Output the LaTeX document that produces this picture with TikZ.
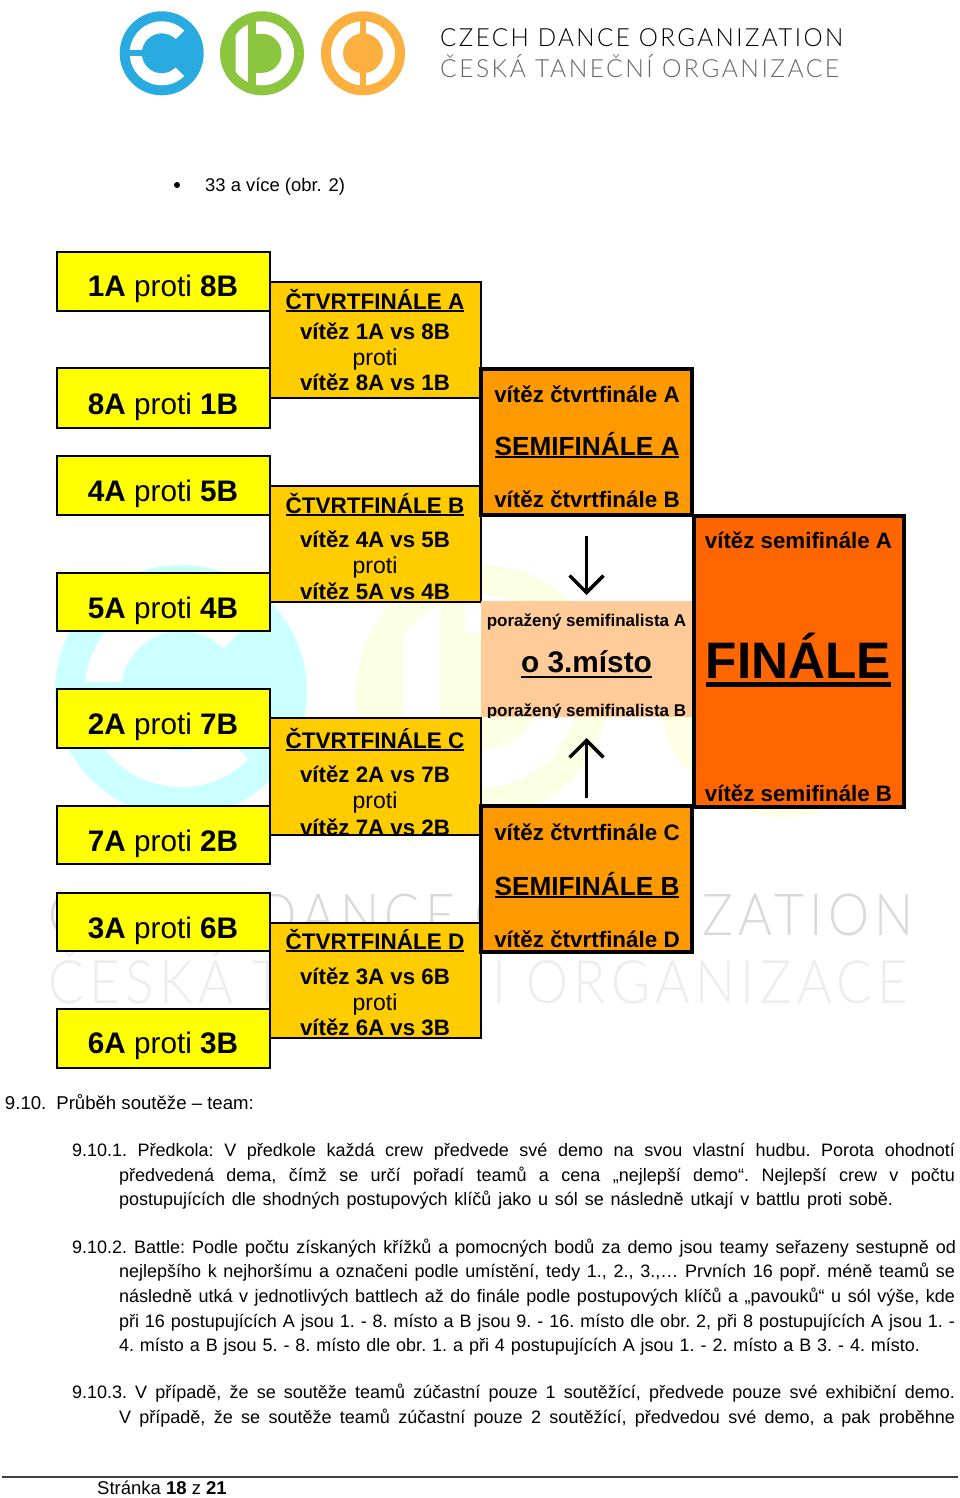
\documentclass[tikz,border=0pt]{standalone}
\usepackage{fontspec}
\usepackage{graphicx}
\usetikzlibrary{arrows.meta}
\setmainfont{Liberation Sans}
\newfontfamily\lgfont[LetterSpace=10]{Lato Light}
\definecolor{cyel}{HTML}{FFFF00}
\definecolor{cqf}{HTML}{FFCC00}
\definecolor{csf}{HTML}{FF9900}
\definecolor{cfin}{HTML}{FF6600}
\definecolor{cthird}{HTML}{FFCC99}
\definecolor{lblue}{HTML}{29ABE2}
\definecolor{lgreen}{HTML}{8CC63F}
\definecolor{lorange}{HTML}{FBB040}
\definecolor{wblue}{HTML}{CCFFFF}
\definecolor{wgreen}{HTML}{FBFFE3}
\definecolor{worange}{HTML}{FFFFE5}
\newcommand\fsz[1]{\fontsize{#1}{#1}\selectfont}
\newsavebox\ulbox
\newcommand\ulx[3]{\sbox\ulbox{#1}\rlap{\usebox\ulbox}\rlap{\raisebox{-#2pt}{\rule{\wd\ulbox}{#3pt}}}\kern\wd\ulbox}
\tikzset{
  x=1pt,y=-1pt,
  boxbase/.style={rectangle,inner sep=0pt,outer sep=0pt,anchor=north west},
  ybox/.style={boxbase,draw=black,fill=cyel,line width=2.6pt},
  qfbox/.style={boxbase,fill=cqf},
  sfbox/.style={boxbase,fill=csf},
  finbox/.style={boxbase,draw=black,fill=cfin,line width=4pt},
  thirdbox/.style={boxbase,fill=cthird},
  lab/.style={inner sep=0pt,outer sep=0pt,anchor=base,text=black},
  arr/.style={line width=3.4pt,-{Straight Barb[length=17pt,width=34pt,line width=3.4pt]}},
}
\newcommand\boxn[6]{\node[#1,minimum width={(#5-#3)*1pt},minimum height={(#6-#4)*1pt}] (#2) at (#3,#4) {};}
\newcommand\ymatch[5]{\boxn{ybox}{#1}{57}{#2}{270}{#3}\node[lab,font=\fsz{29.7}] (#1t) at (163,#4) {#5};}
\newcommand\tline[5]{\node[inner sep=0pt,outer sep=0pt,anchor=base west,font=\fsz{18}] (#1) at (#2,#3) {\hbox to #4pt{\frenchspacing\spaceskip=1pt plus 1fil\relax #5}};}
\newcommand\qftext[8]{%
  \node[lab,font=\fsz{22.5}\bfseries] (#1a) at (375,#2) {\ulx{#6}{2.6}{1.8}};
  \node[lab,font=\fsz{22.3}\bfseries] (#1b) at (375,#3) {#7};
  \node[lab,font=\fsz{23}] (#1c) at (375,#4) {proti};
  \node[lab,font=\fsz{22.3}\bfseries] (#1d) at (375,#5) {#8};}
\newcommand\markC[4]{\begin{scope}[shift={(#1,#2)},scale=#3]
  \fill[#4] (0,0) circle (42);
  \fill[white,even odd rule] (0,0) circle (32) (0,0) circle (20);
  \fill[#4] (0,0) -- (45:33) arc (45:-45:33) -- cycle;
  \fill[#4] (-33,-3) rectangle (-15,3);
\end{scope}}
\newcommand\markD[4]{\begin{scope}[shift={(#1,#2)},scale=#3]
  \fill[#4] (0,0) circle (42);
  \begin{scope}\clip (-26.3,-40) rectangle (40,40);\fill[white] (0,0) circle (32);\end{scope}
  \fill[#4] (-14,-34) rectangle (-5.7,34);
  \begin{scope}\clip (-5.7,-40) rectangle (40,40);\fill[#4] (0,0) circle (19.5);\end{scope}
  \fill[#4] (-5.7,-19.5) rectangle (0,19.5);
\end{scope}}
\newcommand\markO[4]{\begin{scope}[shift={(#1,#2)},scale=#3]
  \fill[#4] (0,0) circle (42);
  \fill[white,even odd rule] (0,0) circle (32) (0,0) circle (20);
  \fill[#4] (-3.3,-33) rectangle (3.3,33);
\end{scope}}
\begin{document}
\begin{tikzpicture}
\useasboundingbox (0,0) rectangle (960,1498);
\fill[white] (0,0) rectangle (960,1498);
% watermark
\markC{181}{691}{3}{wblue}
\markD{482}{691}{3}{wgreen}
\markO{785}{691}{3}{worange}
\node[inner sep=0pt,anchor=base west,text=black!15,font=\lgfont\fsz{58}] (wm1) at (48,935) {\resizebox{865pt}{\height}{CZECH DANCE ORGANIZATION}};
\node[inner sep=0pt,anchor=base west,text=black!7,font=\lgfont\fsz{60}] (wm2) at (48,1003) {\resizebox{860pt}{\height}{ČESKÁ TANEČNÍ ORGANIZACE}};
% header logo
\markC{161.7}{53.3}{1}{lblue}
\markD{262}{53.3}{1}{lgreen}
\markO{363}{53.3}{1}{lorange}
\node[inner sep=0pt,anchor=base west,text=black,font=\lgfont\fsz{25}] (lg1) at (440,47) {\resizebox{403pt}{\height}{CZECH DANCE ORGANIZATION}};
\node[inner sep=0pt,anchor=base west,text=black!60,font=\lgfont\fsz{25}] (lg2) at (440,78) {\resizebox{399pt}{\height}{ČESKÁ TANEČNÍ ORGANIZACE}};
% bullet
\fill[black] (177,185) circle (3);
\node[inner sep=0pt,anchor=base west,font=\fsz{18.4}] (bl) at (205,191.5) {33 a více (obr. 2)};
% first round
\ymatch{m1}{252}{311}{296}{\textbf{1A} proti \textbf{8B}}
\ymatch{m2}{368}{428}{414}{\textbf{8A} proti \textbf{1B}}
\ymatch{m3}{456}{515}{501}{\textbf{4A} proti \textbf{5B}}
\ymatch{m4}{573}{631}{618}{\textbf{5A} proti \textbf{4B}}
\ymatch{m5}{689}{748}{734}{\textbf{2A} proti \textbf{7B}}
\ymatch{m6}{806}{864}{851}{\textbf{7A} proti \textbf{2B}}
\ymatch{m7}{893}{951}{938}{\textbf{3A} proti \textbf{6B}}
\ymatch{m8}{1009}{1068}{1053}{\textbf{6A} proti \textbf{3B}}
% quarterfinals
\boxn{qfbox}{qA}{270}{282}{481}{398}
\boxn{qfbox}{qB}{270}{486}{481}{602}
\boxn{qfbox}{qC}{270}{718}{481}{835}
\boxn{qfbox}{qD}{270}{923}{481}{1038}
\qftext{qa}{309}{339}{365}{390}{ČTVRTFINÁLE A}{vítěz 1A vs 8B}{vítěz 8A vs 1B}
\qftext{qb}{513}{547}{573}{599}{ČTVRTFINÁLE B}{vítěz 4A vs 5B}{vítěz 5A vs 4B}
\qftext{qc}{748}{782}{808}{835}{ČTVRTFINÁLE C}{vítěz 2A vs 7B}{vítěz 7A vs 2B}
\qftext{qd}{949}{984}{1010}{1035}{ČTVRTFINÁLE D}{vítěz 3A vs 6B}{vítěz 6A vs 3B}
\foreach \q in {qA,qB,qC,qD}{\draw[line width=2.4pt] (\q.north west) rectangle (\q.south east);}
% semifinals
\boxn{sfbox}{sA}{481}{369}{692}{515}
\boxn{sfbox}{sB}{481}{806}{692}{952}
\node[lab,font=\fsz{22.4}\bfseries] (sa1) at (587,402) {vítěz čtvrtfinále A};
\node[lab,font=\fsz{26.2}\bfseries] (sa2) at (587,455) {\ulx{SEMIFINÁLE A}{3}{2}};
\node[lab,font=\fsz{22.4}\bfseries] (sa3) at (587,507) {vítěz čtvrtfinále B};
\node[lab,font=\fsz{22.4}\bfseries] (sb1) at (587,840) {vítěz čtvrtfinále C};
\node[lab,font=\fsz{26.2}\bfseries] (sb2) at (587,895) {\ulx{SEMIFINÁLE B}{3}{2}};
\node[lab,font=\fsz{22.4}\bfseries] (sb3) at (587,947) {vítěz čtvrtfinále D};
\draw[line width=3.4pt] (sA.north west) rectangle (sA.south east);
\draw[line width=3.4pt] (sB.north west) rectangle (sB.south east);
% third place
\boxn{thirdbox}{th}{481}{600.7}{692}{717}
\begin{scope}
\clip (th.north west) rectangle (th.south east);
\node[lab,font=\fsz{17}\bfseries] (t1) at (586.5,626) {poražený semifinalista A};
\node[lab,font=\fsz{29.8}\bfseries] (t2) at (586.5,672.5) {\ulx{o 3.místo}{5}{2}};
\node[lab,font=\fsz{17}\bfseries] (t3) at (586.5,716) {poražený semifinalista B};
\end{scope}
\draw[arr,shorten <=21pt,shorten >=5.7pt] (sA.south) -- (th.north);
\draw[arr,shorten <=8pt,shorten >=21pt] (sB.north) -- (th.south);
% final
\boxn{finbox}{fin}{694}{516}{904}{807}
\node[lab,font=\fsz{22.3}\bfseries] (f1) at (798.5,548) {vítěz semifinále A};
\node[lab,font=\fsz{51.3}\bfseries] (f2) at (798.5,678) {\ulx{FINÁLE}{9}{5}};
\node[lab,font=\fsz{22.3}\bfseries] (f3) at (798.5,801) {vítěz semifinále B};
% body text
\node[inner sep=0pt,outer sep=0pt,anchor=base west,font=\fsz{18.6}] (h0) at (5,1109) {9.10.\kern10pt Průběh soutěže – team:};
\tline{a1}{72}{1156}{883}{9.10.1. Předkola: V předkole každá crew předvede své demo na svou vlastní hudbu. Porota ohodnotí}
\tline{a2}{119}{1181}{836}{předvedená dema, čímž se určí pořadí teamů a cena „nejlepší demo“. Nejlepší crew v počtu}
\tline{a3}{119}{1205}{774}{postupujících dle shodných postupových klíčů jako u sól se následně utkají v battlu proti sobě.}
\tline{b1}{72}{1253}{884}{9.10.2. Battle: Podle počtu získaných křížků a pomocných bodů za demo jsou teamy seřazeny sestupně od}
\tline{b2}{119}{1277}{836}{nejlepšího k nejhoršímu a označeni podle umístění, tedy 1., 2., 3.,… Prvních 16 popř. méně teamů se}
\tline{b3}{119}{1302}{836}{následně utká v jednotlivých battlech až do finále podle postupových klíčů a „pavouků“ u sól výše, kde}
\tline{b4}{119}{1327}{836}{při 16 postupujících A jsou 1. - 8. místo a B jsou 9. - 16. místo dle obr. 2, při 8 postupujících A jsou 1. -}
\tline{b5}{119}{1351}{801}{4. místo a B jsou 5. - 8. místo dle obr. 1. a při 4 postupujících A jsou 1. - 2. místo a B 3. - 4. místo.}
\tline{c1}{72}{1398}{883}{9.10.3. V případě, že se soutěže teamů zúčastní pouze 1 soutěžící, předvede pouze své exhibiční demo.}
\tline{c2}{119}{1423}{836}{V případě, že se soutěže teamů zúčastní pouze 2 soutěžící, předvedou své demo, a pak proběhne}
% footer
\coordinate (fl) at (2,1477);
\coordinate (fr) at (958,1477);
\draw[line width=1.2pt,black!75] (fl) -- (fr);
\node[inner sep=0pt,anchor=base west,font=\fsz{18.5}] (ft) at (97,1494) {Stránka \textbf{18} z \textbf{21}};
\end{tikzpicture}
\end{document}
